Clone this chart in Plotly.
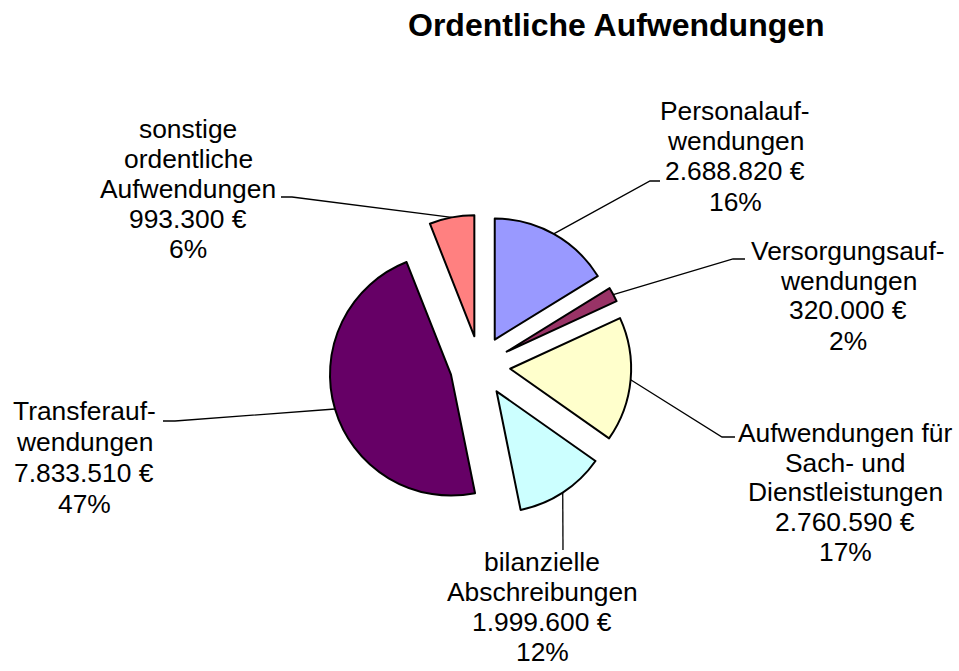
import math
import plotly.graph_objects as go

# ---------------- data ----------------
categories = [
    "Personalaufwendungen",
    "Versorgungsaufwendungen",
    "Aufwendungen für Sach- und Dienstleistungen",
    "bilanzielle Abschreibungen",
    "Transferaufwendungen",
    "sonstige ordentliche Aufwendungen",
]
label_lines = [
    ["Personalauf-", "wendungen"],
    ["Versorgungsauf-", "wendungen"],
    ["Aufwendungen für", "Sach- und", "Dienstleistungen"],
    ["bilanzielle", "Abschreibungen"],
    ["Transferauf-", "wendungen"],
    ["sonstige", "ordentliche", "Aufwendungen"],
]
values = [2688820, 320000, 2760590, 1999600, 7833510, 993300]
colors = ["#9999FF", "#993366", "#FFFFCC", "#CCFFFF", "#660066", "#FF8080"]
title_text = "Ordentliche Aufwendungen"

# ---------------- layout constants (pixels) ----------------
W, H = 959, 671
CX, CY, R = 480.0, 366.0, 121.0
PULL = 0.25
FONT = "Liberation Sans, Arial, sans-serif"
LABEL_SIZE = 26.4
# label block: (center x, center y of first line, line spacing)
label_pos = [
    (735, 111, 30.2),
    (848, 250.5, 30.0),
    (845, 433, 29.75),
    (542, 562, 30.0),
    (84, 411, 31.0),
    (188, 128.5, 30.1),
]
# leader line: elbow point and end point (pixels)
leader_pts = [
    [(650, 181), (660, 181)],
    [(733, 259), (745, 259)],
    [(722, 437), (735, 437)],
    [(563, 550)],
    [(175, 421), (163, 421)],
    [(292, 197), (281, 197)],
]


def px(x):
    return x / W


def py(y):
    return 1 - y / H


def fmt_eur(v):
    return f"{v:,}".replace(",", ".") + " €"


total = sum(values)
half = R * (1 + PULL)

fig = go.Figure(
    go.Pie(
        labels=categories,
        values=values,
        sort=False,
        direction="clockwise",
        rotation=0,
        pull=[PULL] * len(values),
        marker=dict(colors=colors, line=dict(color="black", width=2)),
        textinfo="none",
        hoverinfo="skip",
        showlegend=False,
        domain=dict(
            x=[px(CX - half), px(CX + half)],
            y=[py(CY + half), py(CY - half)],
        ),
    )
)

annotations = []
shapes = []
cum = 0.0
for i, v in enumerate(values):
    mid = 2 * math.pi * (cum + v / 2) / total
    cum += v
    sx = CX + half * math.sin(mid)
    sy = CY - half * math.cos(mid)
    pts = [(sx, sy)] + leader_pts[i]
    path = "M " + " L ".join(f"{px(a):.5f},{py(b):.5f}" for a, b in pts)
    shapes.append(
        dict(type="path", xref="paper", yref="paper", path=path,
             line=dict(color="black", width=1.3))
    )

    lines = label_lines[i] + [fmt_eur(v), f"{round(100 * v / total)}%"]
    lx, ly0, dy = label_pos[i]
    for k, t in enumerate(lines):
        annotations.append(
            dict(
                x=px(lx), y=py(ly0 + k * dy), xref="paper", yref="paper",
                text=t, showarrow=False, xanchor="center", yanchor="middle",
                font=dict(family=FONT, size=LABEL_SIZE, color="black"),
            )
        )

annotations.append(
    dict(
        x=px(616), y=py(25), xref="paper", yref="paper",
        text=f"<b>{title_text}</b>", showarrow=False,
        xanchor="center", yanchor="middle",
        font=dict(family=FONT, size=32, color="black"),
    )
)

fig.update_layout(
    width=W, height=H, autosize=False,
    margin=dict(l=0, r=0, t=0, b=0),
    paper_bgcolor="white", plot_bgcolor="white",
    annotations=annotations, shapes=shapes,
)

fig.write_html(
    "out.html",
    config={"displayModeBar": False, "staticPlot": True},
    post_script="document.body.style.margin='0';document.body.style.overflow='hidden';",
)
